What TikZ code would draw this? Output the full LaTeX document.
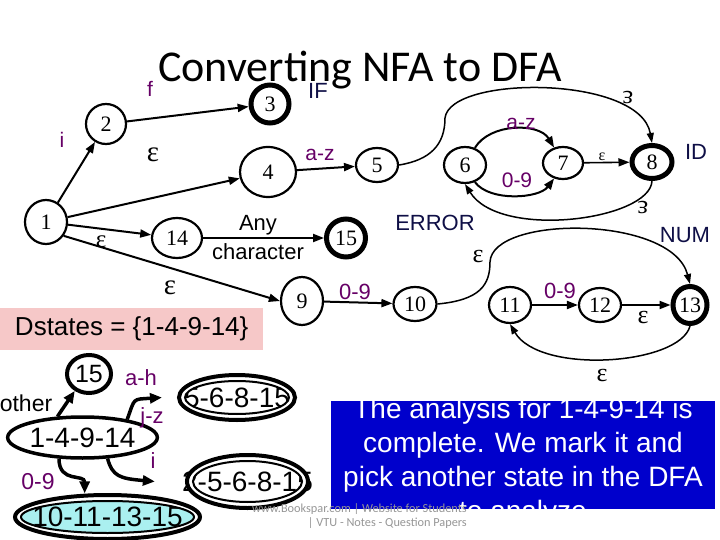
\documentclass[tikz,border=0pt]{standalone}
\usepackage{fontspec}
\setmainfont{Liberation Serif}
\newfontfamily\arialf{Liberation Sans}
\newfontfamily\calf{Carlito}
\usetikzlibrary{shapes.geometric,arrows.meta}
\definecolor{lblpurple}{RGB}{102,0,102}
\definecolor{navy}{RGB}{15,15,70}
\definecolor{pinkbox}{RGB}{246,200,200}
\definecolor{bluebox}{RGB}{0,0,204}
\definecolor{cyanfill}{RGB}{170,240,240}
\definecolor{wmgray}{RGB}{150,150,150}
\newcommand\dblell[3]{%
  \draw[white,line width=3.5pt] (#1.center) ellipse [x radius={#2pt-3.5pt}, y radius={#3pt-3.5pt}];
  \draw[line width=4pt] (#1.center) ellipse [x radius=#2pt, y radius=#3pt];
  \draw[line width=2pt] (#1.center) ellipse [x radius={#2pt-6pt}, y radius={#3pt-6pt}];}
\begin{document}
\begin{tikzpicture}[x=1pt,y=-1pt,
  st/.style={ellipse, draw, line width=2.2pt, inner sep=0pt, font=\fontsize{22}{22}\selectfont},
  acc/.style={st, line width=5pt},
  ed/.style={line width=2pt, -{Triangle[length=11pt,width=8pt]}},
  thinar/.style={line width=1.5pt, -{Triangle[length=10pt,width=7pt]}},
  lp/.style={text=lblpurple, font=\arialf\fontsize{21}{21}\selectfont, inner sep=0pt},
  eps/.style={font=\fontsize{29}{29}\selectfont, inner sep=0pt},
  tok/.style={text=navy, font=\arialf\fontsize{22}{22}\selectfont, inner sep=0pt},
  blk/.style={font=\arialf\fontsize{22}{22}\selectfont, inner sep=0pt},
  dst/.style={ellipse, inner sep=0pt, font=\arialf\fontsize{28}{28}\selectfont},
  ded/.style={line width=3.5pt, -{Triangle[length=12pt,width=10pt]}},
  boxtxt/.style={anchor=base, text=white, font=\arialf\fontsize{28}{28}\selectfont, inner sep=0pt}
]
\useasboundingbox (0,0) rectangle (720,540);

% title
\node[font=\calf\fontsize{44}{44}\selectfont, anchor=base, inner sep=0pt] (title) at (360,82) {Converting NFA to DFA};

% NFA states
\node[st, minimum width=42pt, minimum height=44pt] (n1) at (46,222) {1};
\node[st, minimum width=40pt, minimum height=40pt] (n2) at (106,124) {2};
\node[acc, minimum width=38pt, minimum height=38pt] (n3) at (270,104) {3};
\node[st, minimum width=56pt, minimum height=50pt] (n4) at (268,172) {4};
\node[st, minimum width=42pt, minimum height=34pt] (n5) at (377,165) {5};
\node[st, minimum width=42pt, minimum height=36pt] (n6) at (465,165) {6};
\node[st, minimum width=40pt, minimum height=32pt] (n7) at (563,163) {7};
\node[acc, minimum width=40pt, minimum height=33pt] (n8) at (652,162) {8};
\node[st, minimum width=50pt, minimum height=40pt] (n14) at (177,238) {14};
\node[acc, minimum width=39pt, minimum height=38pt] (n15) at (346,238) {15};
\node[st, minimum width=42pt, minimum height=48pt] (n9) at (302,301) {9};
\node[st, minimum width=43pt, minimum height=34pt] (n10) at (415,304) {10};
\node[st, minimum width=42pt, minimum height=36pt] (n11) at (510,305) {11};
\node[st, minimum width=42pt, minimum height=34pt] (n12) at (600,305) {12};
\node[acc, minimum width=34pt, minimum height=37pt] (n13) at (690,305) {13};

% NFA edges
\draw[ed] (n1) -- (n2);
\draw[ed] (n2) -- (n3);
\draw[ed] (n1) -- (n4);
\draw[ed] (n1) -- (n14);
\draw[ed] (n1.-38) -- (n9.west);
\draw[ed] (n14) -- (n15);
\draw[ed] (n4) -- (n5);
\draw[ed] (n9) -- (n10);
\draw[ed] (n11) -- (n12);
\draw[ed] (n12) -- (n13);
\draw[ed, line width=1.6pt] (n7) -- (n8);
\draw[ed] (n6.60) .. controls +(15,-25) and +(-15,-25) .. (n7.120);
\draw[ed] (n6.-60) .. controls +(15,20) and +(-15,20) .. (n7.-120);
\draw[thinar] (n5.east) .. controls (430,160) and (445,145) .. (445,118)
   .. controls (450,75) and (640,75) .. (n8.north);
\draw[thinar] (n8.south) .. controls (650,220) and (500,240) .. (n6.south);
\draw[thinar] (n10.east) .. controls (480,300) and (490,285) .. (490,262)
   .. controls (492,215) and (672,215) .. (n13.north);
\draw[thinar] (n13.south) .. controls (680,365) and (540,375) .. (n11.south);

% NFA labels
\node[lp] (li) at (62,140) {i};
\node[lp] (lf) at (150,89) {f};
\node[tok] (tif) at (318,91) {IF};
\node[eps] (e14) at (153,155) {ε};
\node[lp] (laz1) at (320,155) {a-z};
\node[lp] (laz2) at (521,124) {a-z};
\node[lp] (l09a) at (517,180) {0-9};
\node[eps, font=\fontsize{16}{16}\selectfont] (e78) at (602,157) {ε};
\node[tok] (tid) at (696,152) {ID};
\node[eps, rotate=180, font=\fontsize{26}{26}\selectfont] (e58) at (628,98) {ε};
\node[eps, rotate=180, font=\fontsize{26}{26}\selectfont] (e86) at (643,207) {ε};
\node[tok] (terr) at (435,223) {ERROR};
\node[tok] (tnum) at (685,235) {NUM};
\node[eps, font=\fontsize{26}{26}\selectfont] (e1013) at (478,257) {ε};
\node[blk] (lany) at (258,225) {Any};
\node[blk] (lchar) at (258,252) {character};
\node[eps, font=\fontsize{25}{25}\selectfont] (e114) at (101,242) {ε};
\node[eps] (e19) at (170,288) {ε};
\node[lp, font=\arialf\fontsize{22}{22}\selectfont] (l09b) at (355,292) {0-9};
\node[lp, font=\arialf\fontsize{22}{22}\selectfont] (l09c) at (560,291) {0-9};
\node[eps, font=\fontsize{26}{26}\selectfont] (e1213) at (643,318) {ε};
\node[eps, font=\fontsize{26}{26}\selectfont] (e1311) at (602,375) {ε};

% Dstates box
\node[fill=pinkbox, minimum width=263pt, minimum height=42pt, inner sep=0pt,
      font=\arialf\fontsize{26}{26}\selectfont, anchor=north west] (ds) at (0,308) {Dstates = \{1-4-9-14\}};

% DFA under construction
\node[ellipse, draw, line width=4pt, inner sep=0pt, minimum width=44pt, minimum height=38pt,
      font=\arialf\fontsize{25}{25}\selectfont] (d15) at (89,374) {15};
\node[ellipse, draw, line width=3.5pt, inner sep=0pt, minimum width=97pt, minimum height=41pt,
      font=\arialf\fontsize{28}{28}\selectfont] (d1491) at (82.5,437.5) {1-4-9-14};
\node[dst, minimum width=120pt, minimum height=49pt] (d568) at (237,397.5) {5-6-8-15};
\dblell{d568}{58}{22.5}
\node[dst, minimum width=125pt, minimum height=57pt] (d2568) at (247.5,481.5) {2-5-6-8-15};
\dblell{d2568}{60.5}{26.5}
\fill[cyanfill] (107.5,517) ellipse [x radius=90pt, y radius=20pt];
\node[dst, minimum width=189pt, minimum height=48pt] (d101113) at (107.5,517) {10-11-13-15};
\dblell{d101113}{92.5}{22}

\draw[ded] (d1491.140) -- (d15.-130);
\draw[ded] (d1491.22) .. controls +(8,-22) and +(-30,2) .. (d568.west);
\draw[ded] (d1491.-40) .. controls +(5,18) and +(-35,-3) .. (d2568.west);
\draw[ded] (d1491.-138) .. controls +(0,25) and +(0,-20) .. (d101113.134);

\node[blk, font=\arialf\fontsize{23}{23}\selectfont] (lother) at (26,403) {other};
\node[lp, font=\arialf\fontsize{22}{22}\selectfont] (lah) at (141,378) {a-h};
\node[lp, font=\arialf\fontsize{22}{22}\selectfont] (ljz) at (152,418) {j-z};
\node[lp, font=\arialf\fontsize{22}{22}\selectfont] (li2) at (153,461) {i};
\node[lp, font=\arialf\fontsize{23}{23}\selectfont] (l09d) at (38,482) {0-9};

% blue explanation box
\node[fill=bluebox, minimum width=384pt, minimum height=108pt, inner sep=0pt, anchor=north west] (bbox) at (331,401) {};
\begin{scope}
  \clip (331,401) rectangle (715,509);
  \node[boxtxt] (t1) at (523,418) {The analysis for 1-4-9-14 is};
  \node[boxtxt] (t2) at (523,452) {complete. We mark it and};
  \node[boxtxt] (t3) at (523,486) {pick another state in the DFA};
  \node[boxtxt] (t4) at (523,520) {to analyze};
\end{scope}

% watermark
\node[anchor=base east, text=wmgray, font=\calf\fontsize{12.3}{12.3}\selectfont, inner sep=0pt] (wm1) at (467,512) {www.Bookspar.com | Website for Students};
\node[anchor=base east, text=wmgray, font=\calf\fontsize{12.3}{12.3}\selectfont, inner sep=0pt] (wm2) at (467,526) {| VTU - Notes - Question Papers};
\end{tikzpicture}
\end{document}
